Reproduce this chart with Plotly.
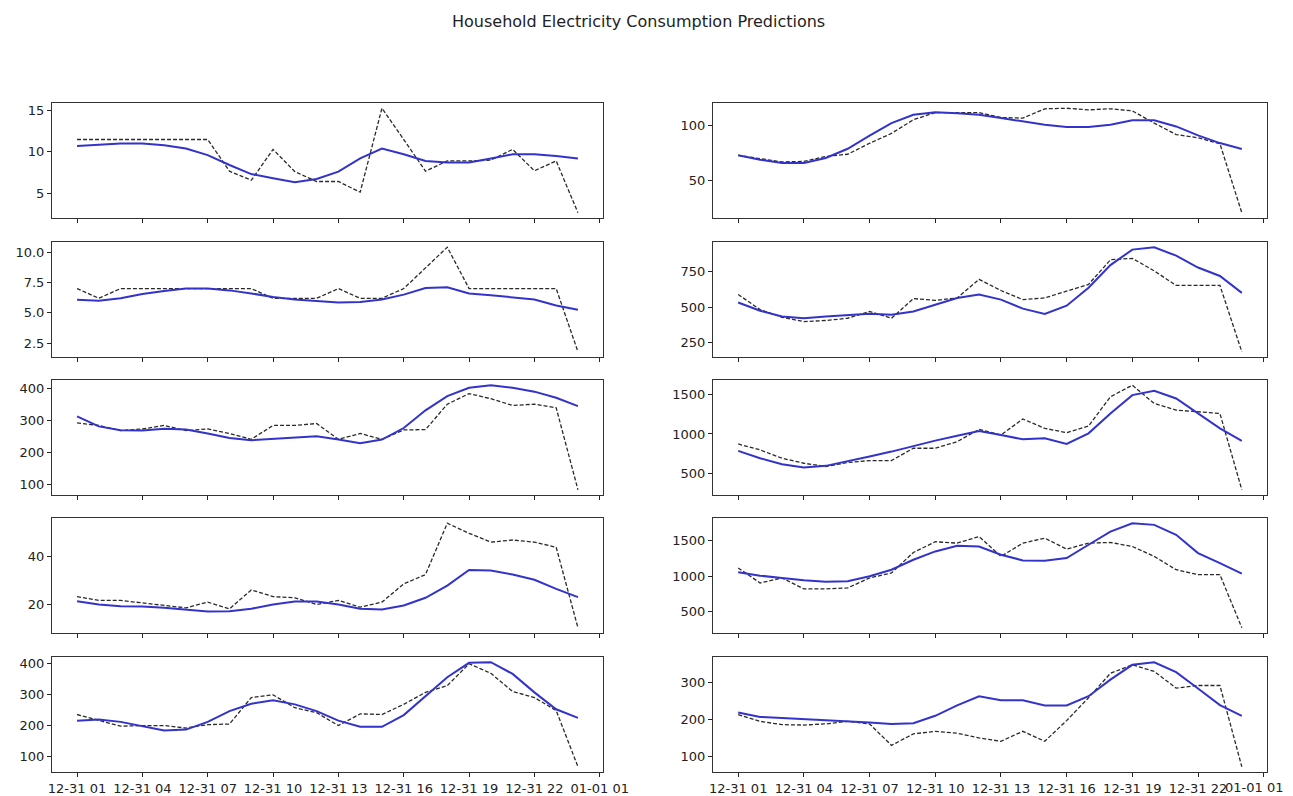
import pandas as pd
import plotly.graph_objects as go

# hourly timestamps: 12-31 01:00 .. 01-01 00:00
times = pd.date_range("2009-12-31 01:00", periods=24, freq="h")
tick_times = pd.date_range("2009-12-31 01:00", "2010-01-01 01:00", freq="3h")
tick_labels = [t.strftime("%m-%d %H") for t in tick_times]

# left column (rows 1..5)
actual_p1 = [11.5, 11.5, 11.5, 11.5, 11.5, 11.5, 11.5, 7.65, 6.55, 10.3, 7.6, 6.4,
             6.4, 5.1, 15.3, 11.5, 7.65, 8.9, 8.9, 9.0, 10.3, 7.7, 8.9, 2.6]
pred_p1 = [10.7, 10.85, 11.0, 11.0, 10.8, 10.4, 9.6, 8.4, 7.3, 6.8, 6.3, 6.7,
           7.6, 9.2, 10.4, 9.7, 8.9, 8.7, 8.7, 9.2, 9.7, 9.7, 9.5, 9.2]

actual_p3 = [7.0, 6.2, 7.0, 7.0, 7.0, 7.0, 7.0, 7.0, 7.0, 6.2, 6.2, 6.2,
             7.0, 6.2, 6.2, 7.0, 8.7, 10.4, 7.0, 7.0, 7.0, 7.0, 7.0, 1.8]
pred_p3 = [6.08, 6.0, 6.2, 6.55, 6.8, 7.0, 7.0, 6.85, 6.6, 6.3, 6.1, 6.0,
           5.85, 5.9, 6.1, 6.5, 7.05, 7.1, 6.6, 6.45, 6.3, 6.1, 5.6, 5.25]

actual_p5 = [292, 284, 268, 273, 284, 268, 273, 259, 241, 284, 284, 290,
             241, 259, 241, 270, 271, 350, 383, 367, 346, 350, 339, 84]
pred_p5 = [312, 281, 269, 268, 274, 271, 259, 245, 238, 242, 248, 250,
           240, 229, 240, 276, 331, 375, 401, 409, 401, 389, 370, 344]

actual_p7 = [23.3, 21.7, 21.7, 20.6, 19.6, 18.6, 21.0, 18.2, 26.1, 23.3, 22.8, 20.0,
             21.7, 18.9, 21.0, 28.6, 32.5, 53.9, 49.7, 46.0, 46.9, 46.0, 43.9, 10.3]
pred_p7 = [21.4, 20.0, 19.3, 19.2, 18.6, 17.8, 17.1, 17.2, 18.2, 20.0, 21.3, 21.3,
           20.0, 18.2, 17.9, 19.6, 22.8, 27.9, 34.4, 34.2, 32.5, 30.3, 26.5, 23.1]

actual_p9 = [235, 215, 197, 199, 199, 191, 202, 204, 290, 299, 257, 241,
             199, 237, 235, 268, 307, 329, 400, 369, 310, 290, 248, 65]
pred_p9 = [215, 219, 211, 197, 183, 186, 211, 246, 270, 281, 268, 246,
           215, 195, 195, 233, 296, 356, 403, 405, 367, 307, 252, 224]

# right column (rows 1..5)
actual_p2 = [73, 70, 67, 67.5, 72, 74, 84, 93, 105.5, 112, 112, 112,
             107.5, 107, 115.5, 116, 114.5, 115.5, 113.6, 102.4, 92, 89, 83.6, 20.6]
pred_p2 = [73, 69, 66, 66, 70.6, 79, 91, 102.4, 110, 112.4, 111.5, 110,
           107, 104, 101, 98.8, 98.8, 101, 105, 105, 99.4, 91.2, 84.2, 78.8]

actual_p4 = [590, 482, 428, 397, 405, 421, 469, 421, 560, 548, 565, 697,
             618, 553, 565, 613, 661, 836, 846, 757, 654, 654, 654, 183]
pred_p4 = [533, 474, 433, 421, 433, 445, 452, 445, 469, 517, 565, 589,
           553, 489, 452, 510, 637, 798, 908, 925, 865, 781, 721, 601]

actual_p6 = [875, 800, 696, 633, 592, 642, 667, 667, 821, 821, 904, 1058,
             988, 1188, 1071, 1017, 1100, 1467, 1612, 1383, 1300, 1279, 1258, 300]
pred_p6 = [788, 696, 621, 579, 600, 654, 717, 779, 850, 917, 979, 1038,
           988, 933, 946, 875, 1008, 1258, 1488, 1542, 1446, 1258, 1071, 913]

actual_p8 = [1117, 907, 977, 823, 823, 837, 977, 1047, 1336, 1486, 1467, 1560,
             1280, 1467, 1537, 1383, 1467, 1476, 1420, 1280, 1093, 1023, 1023, 276]
pred_p8 = [1056, 1009, 977, 944, 925, 930, 1000, 1093, 1233, 1350, 1430, 1420,
           1303, 1224, 1219, 1257, 1444, 1630, 1747, 1724, 1584, 1327, 1187, 1037]

actual_p10 = [212, 194, 185, 184, 187, 194, 187, 129, 160, 167, 162, 149,
              140, 167, 140, 196, 258, 324, 347, 329, 284, 291, 291, 71]
pred_p10 = [218, 206, 203, 200, 198, 196, 191, 187, 189, 209, 237, 262,
            251, 251, 237, 237, 262, 307, 347, 354, 327, 283, 238, 209]

title_text = "Household Electricity Consumption Predictions"
y_dticks = [5, 50, 2.5, 250, 100, 500, 20, 500, 100, 100]
y_formats = ["", "", ".1f", "", "", "", "", "", "", ""]

panels = [(actual_p1, pred_p1), (actual_p2, pred_p2),
          (actual_p3, pred_p3), (actual_p4, pred_p4),
          (actual_p5, pred_p5), (actual_p6, pred_p6),
          (actual_p7, pred_p7), (actual_p8, pred_p8),
          (actual_p9, pred_p9), (actual_p10, pred_p10)]

# page body has an 8px margin; work in page pixels and offset
OFF = 8
W, H = 1293 - OFF, 796 - OFF
col_px = [(52, 603), (713, 1267)]
row_px = [(103, 218), (242, 357), (380, 495), (518, 633), (657, 772)]

span = times[-1] - times[0]
x_range = [times[0] - 0.05 * span, times[-1] + 0.05 * span]

FONT = "DejaVu Sans"
TICK_FONT = dict(family=FONT, size=13, color="#222")
fig = go.Figure()
layout = dict(width=W, height=H, margin=dict(l=0, r=0, t=0, b=0),
              paper_bgcolor="white", plot_bgcolor="white", showlegend=False,
              font=dict(family=FONT, size=13, color="#222"))
annotations = []

for i, (act, pred) in enumerate(panels):
    r, c = i // 2, i % 2
    n = i + 1
    xa = "x" if n == 1 else f"x{n}"
    ya = "y" if n == 1 else f"y{n}"
    fig.add_trace(go.Scatter(x=times, y=act, mode="lines", xaxis=xa, yaxis=ya,
                             line=dict(color="#2a2a2a", width=1.3, dash="4px,2px")))
    fig.add_trace(go.Scatter(x=times, y=pred, mode="lines", xaxis=xa, yaxis=ya,
                             line=dict(color="#3333cc", width=2)))
    vals = list(act) + list(pred)
    lo, hi = min(vals), max(vals)
    pad = 0.05 * (hi - lo)
    x0, x1 = [v - OFF for v in col_px[c]]
    y0, y1 = [v - OFF for v in row_px[r]]
    last_row = r == 4
    texts = list(tick_labels)
    if last_row and c == 1:
        # last label sits at the page edge: draw it right-aligned to stay visible
        texts[-1] = ""
        annotations.append(dict(text=tick_labels[-1], xref="paper", yref="paper",
                                x=(1285 - OFF) / W, xanchor="right",
                                y=1 - (y1 + 6) / H, yanchor="top", showarrow=False,
                                font=TICK_FONT))
    layout["xaxis" if n == 1 else f"xaxis{n}"] = dict(
        domain=[x0 / W, x1 / W], anchor=ya, type="date", range=x_range,
        tickvals=list(tick_times), ticktext=texts, showticklabels=last_row,
        ticklabeloverflow="allow",
        ticks="outside", ticklen=4, tickcolor="#222", showgrid=False, zeroline=False,
        showline=True, mirror=True, linecolor="#333", linewidth=1, automargin=False,
        tickfont=TICK_FONT)
    layout["yaxis" if n == 1 else f"yaxis{n}"] = dict(
        domain=[1 - y1 / H, 1 - y0 / H], anchor=xa, range=[lo - pad, hi + pad],
        tick0=0, dtick=y_dticks[i], tickformat=y_formats[i],
        ticks="outside", ticklen=4, tickcolor="#222", showgrid=False, zeroline=False,
        showline=True, mirror=True, linecolor="#333", linewidth=1, automargin=False,
        tickfont=TICK_FONT)

annotations.append(dict(text=title_text, x=(638 - OFF) / W, y=1 - (22 - OFF) / H,
                        xref="paper", yref="paper", showarrow=False,
                        xanchor="center", yanchor="middle",
                        font=dict(family=FONT, size=16, color="#222")))
layout["annotations"] = annotations
fig.update_layout(**layout)
fig.write_html("out.html")
